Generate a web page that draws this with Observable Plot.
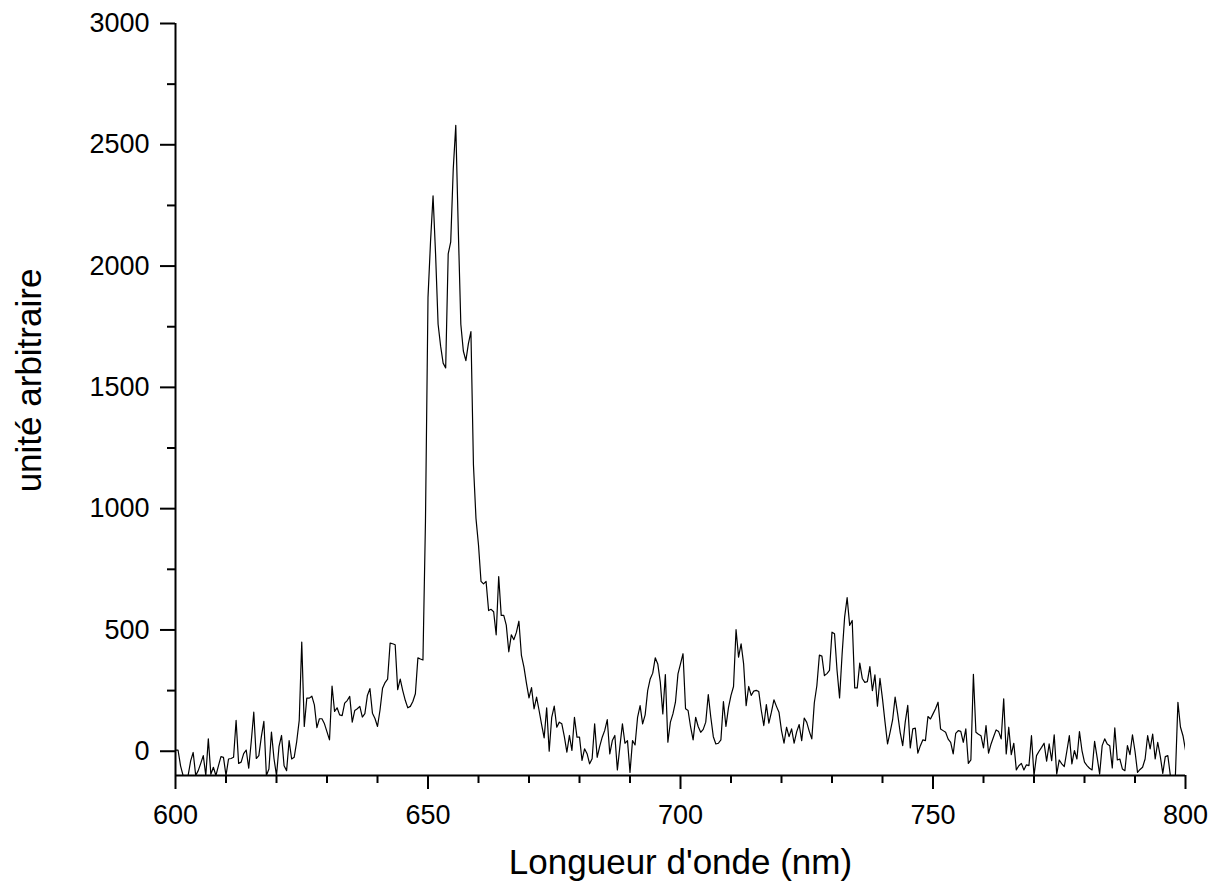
<!DOCTYPE html>
<html>
<head>
<meta charset="utf-8">
<script src="https://cdn.jsdelivr.net/npm/d3@7"></script>
<script src="https://cdn.jsdelivr.net/npm/@observablehq/plot@0.6"></script>
<style>
  html, body { margin: 0; padding: 0; background: #fff; }
</style>
</head>
<body>
<div id="chart"></div>
<script>
// Wavelength sampling (nm)
const startNm = 600;
const stepNm = 0.5;

// Intensity (arbitrary units), 0.5 nm apart
const intensity600to650 = [
  5, 5, -60, -100, -100, -100, -40, -5, -100, -80,
  -50, -18, -100, 51, -95, -66, -100, -60, -22, -25,
  -100, -32, -30, -25, 127, -50, -45, -10, 5, -70,
  40, 161, -30, -18, 60, 123, -100, -73, 79, -30,
  -100, 20, 65, -60, -80, 44, -32, -25, 40, 127,
  450, 102, 219, 219, 227, 191, 97, 134, 134, 113,
  80, 47, 269, 164, 179, 150, 147, 198, 209, 226,
  120, 168, 175, 185, 141, 155, 230, 258, 157, 135,
  102, 170, 260, 283, 297, 446, 443, 439, 254, 297,
  250, 210, 179, 185, 205, 237, 385, 380, 376, 950
];
const intensity650to700 = [
  1870, 2100, 2290, 2050, 1760, 1670, 1600, 1580, 2050, 2100,
  2400, 2580, 2150, 1760, 1650, 1610, 1680, 1730, 1180, 960,
  850, 700, 690, 700, 580, 585, 575, 480, 720, 560,
  560, 520, 410, 480, 460, 490, 536, 395, 347, 280,
  220, 262, 175, 223, 168, 110, 55, 179, 0, 140,
  186, 99, 120, 113, 60, -4, 65, 3, 140, 58,
  58, -38, 10, -10, -52, -31, 113, -25, 20, 58,
  86, 130, -11, 44, 65, -77, 20, 113, 33, 44,
  -87, 44, 26, 140, 188, 113, 150, 250, 298, 322,
  385, 360, 285, 154, 316, 37, 120, 154, 202, 319
];
const intensity700to750 = [
  360, 402, 175, 168, 100, 47, 140, 102, 78, 90,
  120, 234, 140, 60, 30, 33, 47, 205, 102, 180,
  230, 267, 501, 388, 443, 360, 188, 267, 230, 248,
  251, 246, 168, 106, 192, 116, 161, 212, 185, 161,
  85, 33, 99, 60, 92, 33, 80, 110, 44, 137,
  119, 82, 51, 200, 270, 396, 392, 312, 320, 333,
  491, 484, 333, 220, 400, 553, 633, 519, 539, 261,
  261, 363, 300, 284, 287, 349, 250, 315, 186, 300,
  216, 120, 30, 78, 129, 223, 154, 78, 23, 120,
  189, 14, 92, 95, -8, 23, 47, 44, 143, 133
];
const intensity750to800 = [
  154, 175, 202, 92, 85, 78, 50, 37, -11, 74,
  85, 82, 37, 92, -50, -36, 317, 78, 70, 64,
  14, 106, -8, 30, 60, 88, 81, 51, 216, -11,
  99, -14, 33, -77, -60, -50, -77, -56, -59, 64,
  -100, -18, 0, 16, 33, -41, 30, -39, 68, -94,
  -36, -52, -63, 0, 64, -52, 3, -32, 81, 3,
  -45, -59, -70, -77, 41, -25, -94, 23, 51, 30,
  23, -69, 96, -36, -32, -73, -80, 23, -14, 68,
  0, -87, -75, -66, -32, 64, 10, 71, -32, 37,
  -20, -91, -22, -18, -100, -100, -100, 202, 100, 64,
  5
];

// Axis ticks
const xMajorTicks = [600, 650, 700, 750, 800];
const xMinorTicks = [610, 620, 630, 640, 660, 670, 680, 690, 710, 720, 730, 740, 760, 770, 780, 790];
const yMajorTicks = [0, 500, 1000, 1500, 2000, 2500, 3000];
const yMinorTicks = [250, 750, 1250, 1750, 2250, 2750];

// Labels
const xTitle = "Longueur d'onde (nm)";
const yTitle = "unité arbitraire";

const intensity = [...intensity600to650, ...intensity650to700, ...intensity700to750, ...intensity750to800];
const spectrum = intensity.map((v, i) => ({nm: startNm + i * stepNm, v}));

const fmt = d3.format("d");

const chart = Plot.plot({
  width: 1223,
  height: 887,
  marginLeft: 175,
  marginRight: 38,
  marginTop: 23,
  marginBottom: 112,
  style: {fontFamily: "'Liberation Sans', Arial, Helvetica, sans-serif", background: "white", color: "black"},
  x: {domain: [600, 800], label: null},
  y: {domain: [-100, 3000], label: null},
  marks: [
    Plot.line(spectrum, {x: "nm", y: "v", stroke: "black", strokeWidth: 1.2, clip: true}),
    Plot.ruleX([600], {stroke: "black", strokeWidth: 2}),
    Plot.ruleY([-100], {stroke: "black", strokeWidth: 2}),
    Plot.axisX({ticks: xMajorTicks, tickSize: 14, tickPadding: 15, tickFormat: fmt, fontSize: 27, strokeWidth: 2, label: null}),
    Plot.axisX({ticks: xMinorTicks, tickSize: 8, tickFormat: () => "", strokeWidth: 2, label: null}),
    Plot.axisY({ticks: yMajorTicks, tickSize: 15, tickPadding: 11, tickFormat: fmt, fontSize: 27, strokeWidth: 2, label: null}),
    Plot.axisY({ticks: yMinorTicks, tickSize: 8, tickFormat: () => "", strokeWidth: 2, label: null}),
    Plot.text([xTitle], {text: d => d, frameAnchor: "bottom", dy: 87, fontSize: 35, lineAnchor: "middle", textAnchor: "middle", fill: "black"}),
    Plot.text([yTitle], {text: d => d, frameAnchor: "left", rotate: -90, dx: -146, dy: -19, fontSize: 35, lineAnchor: "middle", textAnchor: "middle", fill: "black"})
  ]
});

document.getElementById("chart").appendChild(chart);
</script>
</body>
</html>
